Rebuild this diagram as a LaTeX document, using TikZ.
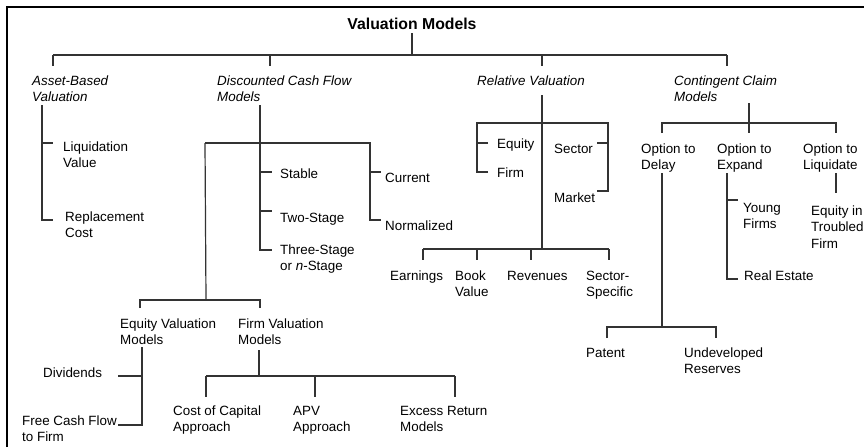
\documentclass[tikz,border=0pt]{standalone}
\usepackage{fontspec}
\setmainfont{Liberation Sans}
\tikzset{% 
	item/.style={inner sep=0pt,anchor=base west,align=left,font=\fontsize{13.4}{16.5}\selectfont},
	twolines/.style={yshift=-16.5pt},
	threelines/.style={yshift=-33pt}
}
\tikzset{% 
	head/.style={item,font=\fontsize{13.4}{16.8}\selectfont\itshape},
	twoheads/.style={yshift=-16.8pt}
}
\tikzset{% 
	link/.style={line width=1.2pt,color=black!80},
	frame/.style={line width=2.4pt,color=black}
}

\begin{document}
\begin{tikzpicture}[x=1pt,y=-1pt]
		\useasboundingbox (0,0) rectangle (864,447);
		\draw [frame] (7,447) -- (7,7) -- (864,7);

		\node [inner sep=0pt,anchor=base,font=\fontsize{15.8}{18}\selectfont\bfseries] (vm) at (412,29) {Valuation Models};

		%Main branches
		\node [head,twoheads] (ab)  at (32,85)  {Asset-Based\\Valuation};
		\node [head,twoheads] (dcf) at (217,85) {Discounted Cash Flow\\Models};
		\node [head] (rv)  at (477,85) {Relative Valuation};
		\node [head,twoheads] (cc)  at (674,85) {Contingent Claim\\Models};

		%Asset-based
		\node [item,twolines] (lv) at (63,151) {Liquidation\\Value};
		\node [item,twolines] (rc) at (65,221) {Replacement\\Cost};

		%Discounted cash flow
		\node [item] (st)  at (280,178) {Stable};
		\node [item] (ts)  at (280,222) {Two-Stage};
		\node [item,twolines] (ths) at (280,254) {Three-Stage\\or \textit{n}-Stage};
		\node [item] (cu)  at (385,182) {Current};
		\node [item] (no)  at (385,230) {Normalized};
		\node [item,twolines] (ev)  at (120,328) {Equity Valuation\\Models};
		\node [item,twolines] (fv)  at (238,328) {Firm Valuation\\Models};
		\node [item] (dv)  at (43,377)  {Dividends};
		\node [item,twolines] (fcf) at (22,425)  {Free Cash Flow\\to Firm};
		\node [item,twolines] (coc) at (173,415) {Cost of Capital\\Approach};
		\node [item,twolines] (apv) at (293,415) {APV\\Approach};
		\node [item,twolines] (er)  at (400,415) {Excess Return\\Models};

		%Relative valuation
		\node [item] (eq) at (497,148) {Equity};
		\node [item] (fi) at (497,177) {Firm};
		\node [item] (se) at (554,153) {Sector};
		\node [item] (ma) at (554,202) {Market};
		\node [item] (ea) at (390,280) {Earnings};
		\node [item,twolines] (bv) at (455,280) {Book\\Value};
		\node [item] (re) at (507,280) {Revenues};
		\node [item,twolines] (ss) at (586,280) {Sector-\\Specific};

		%Contingent claim
		\node [item,twolines] (od) at (641,153) {Option to\\Delay};
		\node [item,twolines] (oe) at (717,153) {Option to\\Expand};
		\node [item,twolines] (ol) at (803,153) {Option to\\Liquidate};
		\node [item,twolines] (yf) at (743,212) {Young\\Firms};
		\node [item] (rl) at (744,280) {Real Estate};
		\node [item,threelines] (et) at (811,215) {Equity in\\Troubled\\Firm};
		\node [item] (pa) at (586,357) {Patent};
		\node [item,twolines] (ur) at (684,357) {Undeveloped\\Reserves};

		%Top bar
		\coordinate (vm-j) at (412,55);
		\draw [link] (vm.south) ++(0,4) -- (vm-j);
		\draw [link] (53,55) -- (727,55);
		\foreach \x in {53,270,542,727} \draw [link] (\x,55) -- (\x,66);

		%Asset-based lines
		\coordinate (ab-t) at (42,105);
		\coordinate (ab-b) at (42,220);
		\draw [link] (ab-t) -- (ab-b) -- (53,220);
		\draw [link] (42,143) -- (53,143);

		%DCF lines
		\coordinate (dcf-t) at (260,105);
		\coordinate (dcf-j) at (260,143);
		\draw [link] (dcf-t) -- (dcf-j) -- (260,250) -- (272,250);
		\draw [link] (205,143) -- (370,143) -- (370,220) -- (381,220);
		\foreach \y in {172,211} \draw [link] (260,\y) -- (272,\y);
		\draw [link] (370,172) -- (381,172);
		\coordinate (dcf-l) at (206,300);
		\draw [link] (205,143) -- (dcf-l);
		\draw [link] (140,308) -- (140,300) -- (260,300) -- (260,308);

		%Equity and firm valuation lines
		\draw [link] (118,376) -- (142,376);
		\draw [link] (142,347) -- (142,425) -- (118,425);
		\draw [link] (259,350) -- (259,376);
		\draw [link] (206,376) -- (455,376);
		\foreach \x in {206,315,455} \draw [link] (\x,376) -- (\x,397);

		%Relative valuation lines
		\coordinate (rv-t) at (542,95);
		\coordinate (rv-b) at (542,249);
		\draw [link] (rv-t) -- (rv-b);
		\draw [link] (488,143) -- (477,143);
		\draw [link] (488,172) -- (477,172) -- (477,123) -- (608,123) -- (608,191) -- (597,191);
		\draw [link] (597,143) -- (608,143);
		\draw [link] (423,249) -- (609,249);
		\foreach \x in {423,477,531,609} \draw [link] (\x,249) -- (\x,260);

		%Contingent claim lines
		\coordinate (cc-t) at (749,103);
		\draw [link] (cc-t) -- (749,133);
		\draw [link] (662,133) -- (662,123) -- (836,123) -- (836,133);
		\draw [link] (662,173) -- (662,327);
		\draw [link] (607,338) -- (607,327) -- (716,327) -- (716,338);
		\draw [link] (727,173) -- (727,279) -- (738,279);
		\draw [link] (727,200) -- (738,200);
		\draw [link] (836,173) -- (836,193);

	\end{tikzpicture}
\end{document}
